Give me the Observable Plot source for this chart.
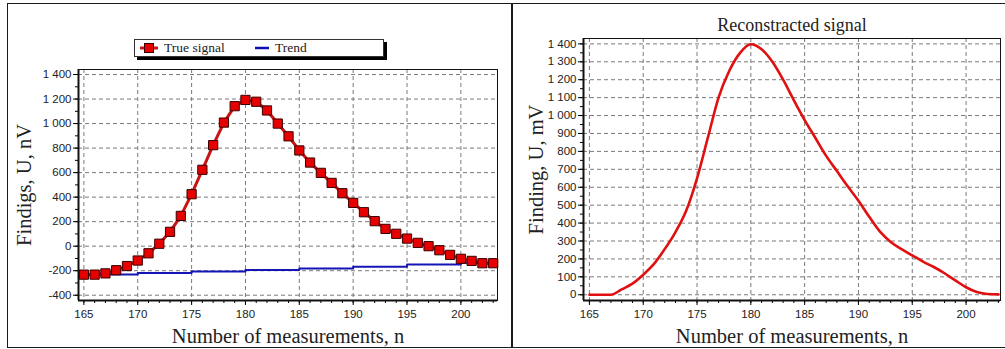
<!DOCTYPE html>
<html>
<head>
<meta charset="utf-8">
<script src="https://cdn.jsdelivr.net/npm/d3@7"></script>
<script src="https://cdn.jsdelivr.net/npm/@observablehq/plot@0.6"></script>
<style>
  html, body { margin: 0; padding: 0; background: #fff; }
  body { width: 1005px; height: 349px; position: relative; overflow: hidden; }
  .panel { position: absolute; border: 1.5px solid #1a1a1a; box-sizing: border-box; }
  .chart { position: absolute; top: 0; }
  .chart svg { overflow: visible; }
  .chart [aria-label$="axis label"] text { font-family: "Liberation Serif", serif; font-size: 20.5px; fill: #222; }
  .chart [aria-label$="axis tick label"] text { font-family: "Liberation Sans", Arial, sans-serif; font-size: 11.5px; fill: #222; }
  .legend { position: absolute; left: 134px; top: 39px; width: 250px; height: 18px; box-sizing: border-box;
    border: 1px solid #333; background: #fff; box-shadow: 3px 3px 0 #000;
    font-family: "Liberation Serif", serif; font-size: 13.5px; color: #222; }
  .legend .item { position: absolute; top: 0; height: 16px; line-height: 16px; display: flex; align-items: center; }
  .legend svg { margin-right: 6px; }
</style>
</head>
<body>
<div class="panel" style="left:7px; top:3px; width:505px; height:345px;"></div>
<div class="panel" style="left:512px; top:3px; width:500px; height:345px;"></div>
<div id="left" class="chart" style="left:0px;"></div>
<div id="right" class="chart" style="left:512px;"></div>
<div class="legend">
  <div class="item" style="left:5px;"><svg width="18" height="12"><line x1="0" y1="6" x2="18" y2="6" stroke="#c81414" stroke-width="3"/><rect x="4.5" y="1.5" width="9" height="9" fill="#e60000" stroke="#3a0000" stroke-width="1"/></svg>True signal</div>
  <div class="item" style="left:120px;"><svg width="14" height="12"><line x1="0" y1="6" x2="14" y2="6" stroke="#1010b0" stroke-width="2.5"/></svg>Trend</div>
</div>
<script>
// ---- data ----
const measurementsN = [165,166,167,168,169,170,171,172,173,174,175,176,177,178,179,180,181,182,183,184,185,186,187,188,189,190,191,192,193,194,195,196,197,198,199,200,201,202,203];
const trueSignal = [-232,-232,-222,-196,-162,-117,-58,20,117,247,424,623,824,1008,1142,1193,1178,1107,1000,896,781,682,598,516,432,353,277,204,141,101,62,27,0,-33,-71,-103,-120,-139,-139];
const trendN = [165,170,175,180,185,190,195,200,203];
const trendValues = [-230,-218,-206,-195,-182,-168,-150,-135,-128];
const reconstructed = [0,0,0,30,62,112,172,255,350,470,650,875,1100,1250,1350,1398,1370,1300,1200,1085,975,875,775,690,605,525,435,352,295,255,220,185,155,120,80,42,15,4,2];
const xTickValues = [165,170,175,180,185,190,195,200];
const leftYTicks = [-400,-200,0,200,400,600,800,1000,1200,1400];
const rightYTicks = [0,100,200,300,400,500,600,700,800,900,1000,1100,1200,1300,1400];
const leftTitleX = "Number of measurements, n";
const leftTitleY = "Findigs, U, nV";
const rightTitleY = "Finding, U, mV";
const rightTitle = "Reconstracted signal";

// ---- build ----
const fmt = d => d3.format(",")(d).replace(/,/g, " ").replace("\u2212", "-");
const minorX = d3.range(165, 204);
const signalRows = measurementsN.map((n, i) => ({n, v: trueSignal[i]}));
const trendRows = trendN.map((n, i) => ({n, v: trendValues[i]}));
const reconRows = measurementsN.map((n, i) => ({n, v: reconstructed[i]}));
const gridStyle = {stroke: "#7a7a7a", strokeOpacity: 1, strokeDasharray: "4,3", strokeWidth: 1};

const left = Plot.plot({
  width: 512, height: 349,
  marginLeft: 78, marginRight: 15, marginTop: 69, marginBottom: 49,
  x: {domain: [164.5, 203.4]},
  y: {domain: [-443, 1441]},
  marks: [
    Plot.gridX(xTickValues, gridStyle),
    Plot.gridY(leftYTicks, gridStyle),
    Plot.axisX(minorX, {tickSize: 3, text: null, label: null}),
    Plot.axisY(d3.range(-400, 1401, 100), {tickSize: 3, text: null, label: null}),
    Plot.axisX(xTickValues, {tickSize: 5, tickPadding: 4, tickFormat: d => String(d), label: leftTitleX, labelArrow: "none", labelAnchor: "center", labelOffset: 42}),
    Plot.axisY(leftYTicks, {tickSize: 5, tickPadding: 2, tickFormat: fmt, label: leftTitleY, labelArrow: "none", labelAnchor: "center", labelOffset: 62}),
    Plot.line(trendRows, {x: "n", y: "v", stroke: "#1515b5", strokeWidth: 2, curve: "step-after"}),
    Plot.line(signalRows, {x: "n", y: "v", stroke: "#c81414", strokeWidth: 3}),
    Plot.dot(signalRows, {x: "n", y: "v", symbol: "square", r: 5.2, fill: "#e60000", stroke: "#3a0000", strokeWidth: 1}),
    Plot.frame({stroke: "#111", strokeWidth: 1}),
    Plot.ruleX([164.5], {stroke: "#111", strokeWidth: 2}),
    Plot.ruleY([-443], {stroke: "#111", strokeWidth: 2})
  ]
});
document.getElementById("left").appendChild(left);

const right = Plot.plot({
  width: 493, height: 349,
  marginLeft: 71, marginRight: 5, marginTop: 38, marginBottom: 49,
  x: {domain: [164.45, 203.2]},
  y: {domain: [-32, 1430]},
  marks: [
    Plot.gridX(xTickValues, gridStyle),
    Plot.gridY(rightYTicks, gridStyle),
    Plot.axisX(minorX, {tickSize: 3, text: null, label: null}),
    Plot.axisY(d3.range(0, 1401, 50), {tickSize: 3, text: null, label: null}),
    Plot.axisX(xTickValues, {tickSize: 5, tickPadding: 4, tickFormat: d => String(d), label: leftTitleX, labelArrow: "none", labelAnchor: "center", labelOffset: 42}),
    Plot.axisY(rightYTicks, {tickSize: 5, tickPadding: 2, tickFormat: fmt, label: rightTitleY, labelArrow: "none", labelAnchor: "center", labelOffset: 55}),
    Plot.line(reconRows, {x: "n", y: "v", stroke: "#e01010", strokeWidth: 2.6, curve: "monotone-x"}),
    Plot.frame({stroke: "#111", strokeWidth: 1}),
    Plot.ruleX([164.45], {stroke: "#111", strokeWidth: 2}),
    Plot.ruleY([-32], {stroke: "#111", strokeWidth: 2}),
    Plot.text([rightTitle], {frameAnchor: "top", dy: -20, fontFamily: "Liberation Serif", fontSize: 18, fill: "#222"})
  ]
});
document.getElementById("right").appendChild(right);
</script>
</body>
</html>
